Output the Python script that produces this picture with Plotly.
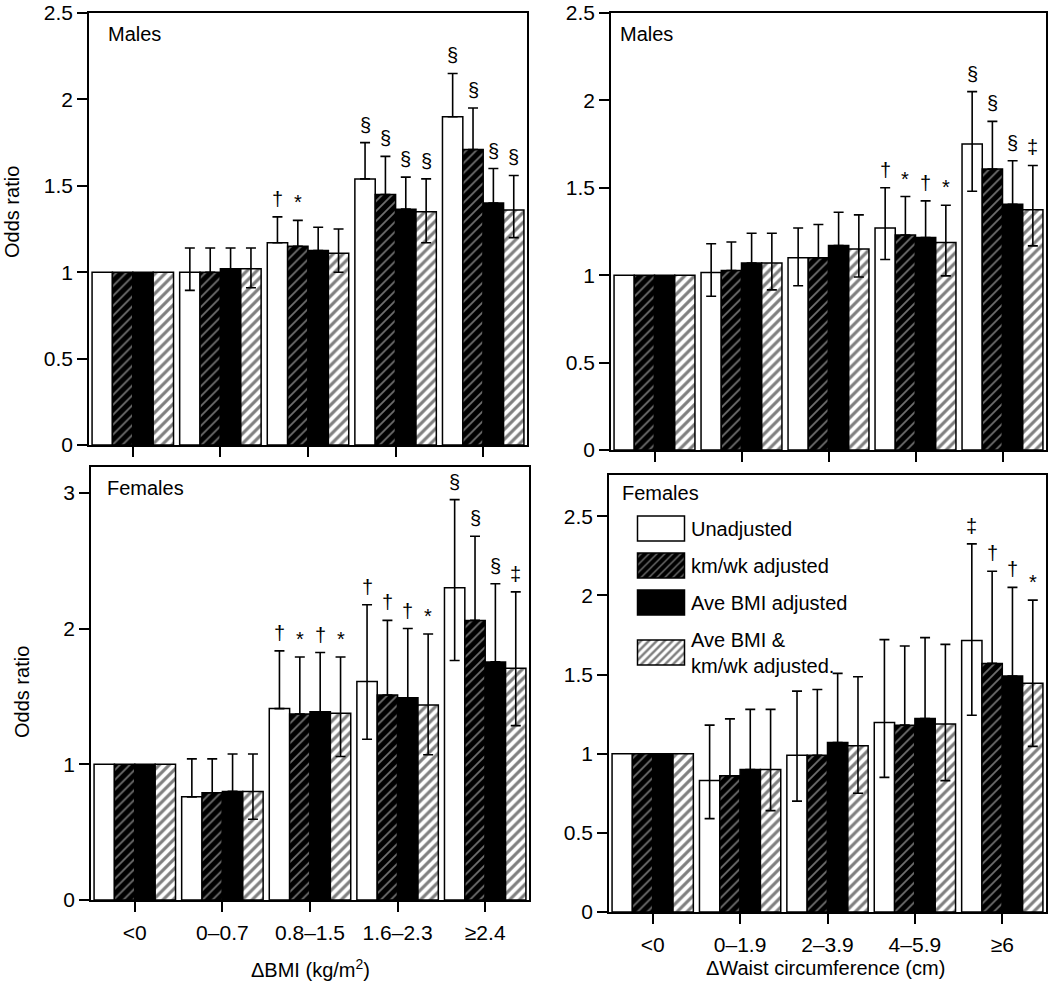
import numpy as np
import plotly.graph_objects as go

# ---------------- data ----------------
series_names = ["Unadjusted", "km/wk adjusted", "Ave BMI adjusted", "Ave BMI &<br>km/wk adjusted."]
bmi_cats = ["<0", "0–0.7", "0.8–1.5", "1.6–2.3", "≥2.4"]
waist_cats = ["<0", "0–1.9", "2–3.9", "4–5.9", "≥6"]

# Males, delta BMI
m_bmi_unadj = [1.00, 1.00, 1.17, 1.54, 1.90]
m_bmi_unadj_hi = [None, 1.14, 1.32, 1.75, 2.15]
m_bmi_unadj_lo = [None, 0.895, None, None, None]
m_bmi_km = [1.00, 1.00, 1.15, 1.45, 1.71]
m_bmi_km_hi = [None, 1.14, 1.30, 1.67, 1.95]
m_bmi_ave = [1.00, 1.02, 1.125, 1.365, 1.40]
m_bmi_ave_hi = [None, 1.14, 1.26, 1.55, 1.60]
m_bmi_both = [1.00, 1.02, 1.11, 1.35, 1.36]
m_bmi_both_hi = [None, 1.14, 1.25, 1.54, 1.56]
m_bmi_both_lo = [None, 0.91, 1.00, 1.17, 1.20]
m_bmi_sig = [["", "", "†", "§", "§"], ["", "", "*", "§", "§"], ["", "", "", "§", "§"], ["", "", "", "§", "§"]]

# Males, delta waist
m_w_unadj = [1.00, 1.015, 1.10, 1.27, 1.75]
m_w_unadj_hi = [None, 1.18, 1.27, 1.50, 2.05]
m_w_unadj_lo = [None, 0.88, 0.94, 1.09, 1.48]
m_w_km = [1.00, 1.027, 1.10, 1.23, 1.607]
m_w_km_hi = [None, 1.19, 1.29, 1.45, 1.88]
m_w_ave = [1.00, 1.07, 1.17, 1.215, 1.406]
m_w_ave_hi = [None, 1.24, 1.36, 1.425, 1.655]
m_w_both = [1.00, 1.07, 1.15, 1.187, 1.374]
m_w_both_hi = [None, 1.24, 1.345, 1.40, 1.628]
m_w_both_lo = [None, 0.916, 0.99, 0.996, 1.168]
m_w_sig = [["", "", "", "†", "§"], ["", "", "", "*", "§"], ["", "", "", "†", "§"], ["", "", "", "*", "‡"]]

# Females, delta BMI
f_bmi_unadj = [1.00, 0.76, 1.41, 1.61, 2.30]
f_bmi_unadj_hi = [None, 1.04, 1.835, 2.175, 2.95]
f_bmi_unadj_lo = [None, None, None, 1.184, 1.764]
f_bmi_km = [1.00, 0.79, 1.37, 1.51, 2.06]
f_bmi_km_hi = [None, 1.04, 1.79, 2.06, 2.68]
f_bmi_ave = [1.00, 0.80, 1.386, 1.49, 1.754]
f_bmi_ave_hi = [None, 1.076, 1.823, 2.00, 2.33]
f_bmi_both = [1.00, 0.80, 1.376, 1.437, 1.708]
f_bmi_both_hi = [None, 1.076, 1.79, 1.96, 2.27]
f_bmi_both_lo = [None, 0.595, 1.057, 1.07, 1.285]
f_bmi_sig = [["", "", "†", "†", "§"], ["", "", "*", "†", "§"], ["", "", "†", "†", "§"], ["", "", "*", "*", "‡"]]

# Females, delta waist
f_w_unadj = [1.00, 0.83, 0.99, 1.197, 1.715]
f_w_unadj_hi = [None, 1.18, 1.395, 1.72, 2.325]
f_w_unadj_lo = [None, 0.59, 0.70, 0.85, 1.243]
f_w_km = [1.00, 0.86, 0.99, 1.18, 1.57]
f_w_km_hi = [None, 1.22, 1.405, 1.68, 2.152]
f_w_ave = [1.00, 0.90, 1.07, 1.222, 1.49]
f_w_ave_hi = [None, 1.28, 1.507, 1.733, 2.05]
f_w_both = [1.00, 0.90, 1.05, 1.188, 1.444]
f_w_both_hi = [None, 1.28, 1.486, 1.69, 1.97]
f_w_both_lo = [None, 0.64, 0.75, 0.83, 1.046]
f_w_sig = [["", "", "", "", "‡"], ["", "", "", "", "†"], ["", "", "", "", "†"], ["", "", "", "", "*"]]

# ---------------- styling ----------------
W, H = 1050, 987
FONT = "Liberation Sans, Arial, Helvetica, sans-serif"
BARGAP = 0.07
styles = [
    dict(color="white", pattern=None),
    dict(color="black", pattern=dict(shape="/", bgcolor="black", fgcolor="#e0e0e0", size=7, solidity=0.25)),
    dict(color="black", pattern=None),
    dict(color="white", pattern=dict(shape="/", bgcolor="white", fgcolor="black", size=7, solidity=0.45)),
]

def px_x(a, b):
    return [a / W, b / W]

def px_y(top, bottom):
    return [1 - bottom / H, 1 - top / H]

panels = [
    dict(ax="", cats=bmi_cats, rng=[0, 2.5], dtick=0.5, xd=px_x(89, 527), yd=px_y(13, 445),
         vals=[m_bmi_unadj, m_bmi_km, m_bmi_ave, m_bmi_both],
         his=[m_bmi_unadj_hi, m_bmi_km_hi, m_bmi_ave_hi, m_bmi_both_hi],
         los=[m_bmi_unadj_lo, None, None, m_bmi_both_lo], sig=m_bmi_sig, labels=False),
    dict(ax="2", cats=waist_cats, rng=[0, 2.5], dtick=0.5, xd=px_x(611, 1046), yd=px_y(13, 450),
         vals=[m_w_unadj, m_w_km, m_w_ave, m_w_both],
         his=[m_w_unadj_hi, m_w_km_hi, m_w_ave_hi, m_w_both_hi],
         los=[m_w_unadj_lo, None, None, m_w_both_lo], sig=m_w_sig, labels=False),
    dict(ax="3", cats=bmi_cats, rng=[0, 3.19], dtick=1, xd=px_x(91, 529), yd=px_y(467, 900),
         vals=[f_bmi_unadj, f_bmi_km, f_bmi_ave, f_bmi_both],
         his=[f_bmi_unadj_hi, f_bmi_km_hi, f_bmi_ave_hi, f_bmi_both_hi],
         los=[f_bmi_unadj_lo, None, None, f_bmi_both_lo], sig=f_bmi_sig, labels=True),
    dict(ax="4", cats=waist_cats, rng=[0, 2.76], dtick=0.5, xd=px_x(609, 1046), yd=px_y(475, 912),
         vals=[f_w_unadj, f_w_km, f_w_ave, f_w_both],
         his=[f_w_unadj_hi, f_w_km_hi, f_w_ave_hi, f_w_both_hi],
         los=[f_w_unadj_lo, None, None, f_w_both_lo], sig=f_w_sig, labels=True),
]

fig = go.Figure()
annotations = []
bw = (1 - BARGAP) / 4

for pi, p in enumerate(panels):
    xref = "x" + p["ax"]
    yref = "y" + p["ax"]
    xs = list(range(len(p["cats"])))
    for j in range(4):
        v = np.array(p["vals"][j], dtype=float)
        hi = np.array([np.nan if h is None else h for h in p["his"][j]], dtype=float)
        up = hi - v
        if p["los"][j] is None:
            dn = np.where(np.isnan(up), np.nan, 0.0)
        else:
            lo = np.array([np.nan if l is None else l for l in p["los"][j]], dtype=float)
            dn = np.where(np.isnan(lo), np.where(np.isnan(up), np.nan, 0.0), v - lo)
        st = styles[j]
        marker = dict(color=st["color"], line=dict(color="black", width=1.5))
        if st["pattern"] is not None:
            marker["pattern"] = st["pattern"]
        fig.add_trace(go.Bar(
            x=xs, y=v, name=series_names[j], marker=marker,
            xaxis=xref, yaxis=yref,
            legendgroup="g%d" % j, showlegend=(pi == 3),
            error_y=dict(type="data", symmetric=False, array=up, arrayminus=dn,
                         color="black", thickness=1.6, width=5),
        ))
        for i, s in enumerate(p["sig"][j]):
            if s:
                annotations.append(dict(
                    x=i + (j - 1.5) * bw, y=hi[i], xref=xref, yref=yref,
                    text=s, showarrow=False, yanchor="bottom", yshift=5,
                    font=dict(size=20, color="black", family=FONT)))

    axis_common = dict(showline=True, mirror=True, linecolor="black", linewidth=1.5,
                       showgrid=False, zeroline=False, ticks="outside", ticklen=10,
                       tickwidth=1.5, tickcolor="black")
    xa = dict(axis_common, domain=p["xd"], range=[-0.5, 4.5], tickmode="array",
              tickvals=xs, ticktext=p["cats"], showticklabels=p["labels"],
              tickfont=dict(size=21, family=FONT, color="black"), ticklabelstandoff=3,
              anchor=yref)
    ya = dict(axis_common, domain=p["yd"], range=p["rng"], dtick=p["dtick"], tick0=0,
              tickfont=dict(size=21, family=FONT, color="black"), anchor=xref,
              ticklabeloverflow="allow")
    fig.update_layout({"xaxis" + p["ax"]: xa, "yaxis" + p["ax"]: ya})

def txt(text, xpx, ypx, size=20, xanchor="left", angle=0):
    annotations.append(dict(x=xpx / W, y=1 - ypx / H, xref="paper", yref="paper",
                            text=text, showarrow=False, xanchor=xanchor, yanchor="middle",
                            textangle=angle, font=dict(size=size, family=FONT, color="black")))

txt("Males", 106, 34)
txt("Males", 618, 34)
txt("Females", 105, 488)
txt("Females", 620, 493)
txt("Odds ratio", 12, 212, xanchor="center", angle=-90)
txt("Odds ratio", 22, 692, xanchor="center", angle=-90)
txt("ΔBMI (kg/m<sup>2</sup>)", 310, 968, xanchor="center")
txt("ΔWaist circumference (cm)", 825, 968, xanchor="center")

fig.update_layout(
    width=W, height=H, barmode="group", bargap=BARGAP, bargroupgap=0,
    plot_bgcolor="white", paper_bgcolor="white",
    margin=dict(l=0, r=0, t=0, b=0, autoexpand=False),
    font=dict(family=FONT, color="black", size=20),
    annotations=annotations,
    showlegend=True,
    legend=dict(x=631 / W, y=1 - 509 / H, xanchor="left", yanchor="top",
                bgcolor="rgba(0,0,0,0)", font=dict(size=20, family=FONT, color="black"),
                itemwidth=50, traceorder="grouped", tracegroupgap=8, valign="middle",
                itemclick=False, itemdoubleclick=False),
)

post = """
document.body.style.margin = '0';
document.body.style.padding = '0';
document.documentElement.style.overflow = 'hidden';
var gd = document.getElementById('{plot_id}');
function bigIcons(){
  var ps = gd.querySelectorAll('.legend .legendpoints path');
  ps.forEach(function(p){ p.setAttribute('d','M23.5,12.5H-23.5V-12.5H23.5Z'); });
}
bigIcons();
if (gd.on) { gd.on('plotly_afterplot', bigIcons); }
"""

fig.write_html("out.html", post_script=post, config={"displayModeBar": False})
